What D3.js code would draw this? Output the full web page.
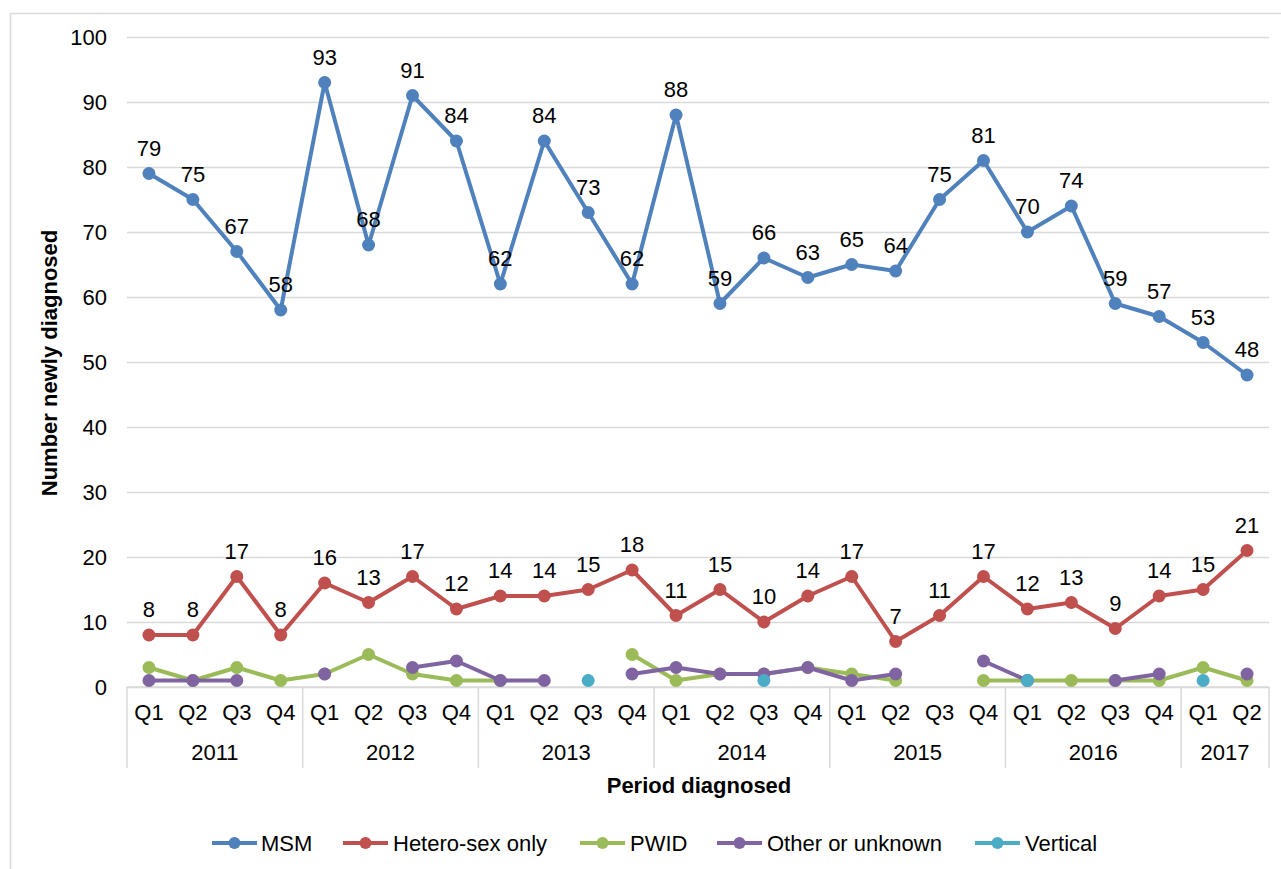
<!DOCTYPE html>
<html>
<head>
<meta charset="utf-8">
<script src="https://cdn.jsdelivr.net/npm/d3@7/dist/d3.min.js"></script>
<style>
  html, body { margin: 0; padding: 0; background: #fff; }
  svg { display: block; font-family: "Liberation Sans", Arial, sans-serif; }
</style>
</head>
<body>
<svg id="chart" width="1281" height="869"></svg>
<script>
// Quarterly new diagnoses by exposure group
const years = ["2011", "2012", "2013", "2014", "2015", "2016", "2017"];
const quartersPerYear = [4, 4, 4, 4, 4, 4, 2];
const quarterLabels = ["Q1", "Q2", "Q3", "Q4"];

const msm = [79, 75, 67, 58, 93, 68, 91, 84, 62, 84, 73, 62, 88, 59, 66, 63, 65, 64, 75, 81, 70, 74, 59, 57, 53, 48];
const hetero = [8, 8, 17, 8, 16, 13, 17, 12, 14, 14, 15, 18, 11, 15, 10, 14, 17, 7, 11, 17, 12, 13, 9, 14, 15, 21];
const pwid = [3, 1, 3, 1, 2, 5, 2, 1, 1, null, null, 5, 1, 2, 2, 3, 2, 1, null, 1, 1, 1, 1, 1, 3, 1];
const other = [1, 1, 1, null, 2, null, 3, 4, 1, 1, null, 2, 3, 2, 2, 3, 1, 2, null, 4, 1, null, 1, 2, null, 2];
const vertical = [null, null, null, null, null, null, null, null, null, null, 1, null, null, null, 1, null, null, null, null, null, 1, null, null, null, 1, null];

const yTicks = [0, 10, 20, 30, 40, 50, 60, 70, 80, 90, 100];

const seriesNames = ["MSM", "Hetero-sex only", "PWID", "Other or unknown", "Vertical"];
const seriesColors = ["#4f81bd", "#c0504d", "#9bbb59", "#8064a2", "#4bacc6"];
const seriesValues = [msm, hetero, pwid, other, vertical];
const labelled = [true, true, false, false, false];

const FONT = 22;

// Flattened category list: one entry per quarter
const periods = [];
years.forEach((yr, yi) => {
  for (let q = 0; q < quartersPerYear[yi]; q++) {
    periods.push({ key: yr + "-" + quarterLabels[q], year: yr, quarter: quarterLabels[q] });
  }
});

const svg = d3.select("#chart");
const W = 1281, H = 869;
const plot = { left: 127, right: 1269, top: 37, bottom: 687 };

// Outer chart frame (extends past the page on the right and bottom)
svg.append("rect")
  .attr("x", 10.5).attr("y", 13.5)
  .attr("width", W + 20).attr("height", H + 20)
  .attr("fill", "#fff")
  .attr("stroke", "#d9d9d9").attr("stroke-width", 1.5);

const x = d3.scaleBand()
  .domain(periods.map(p => p.key))
  .range([plot.left, plot.right])
  .padding(0);

const y = d3.scaleLinear().domain([0, 100]).range([plot.bottom, plot.top]);

const cx = i => x(periods[i].key) + x.bandwidth() / 2;

// Horizontal gridlines and value axis labels
const yAxis = d3.axisLeft(y)
  .tickValues(yTicks)
  .tickSize(-(plot.right - plot.left))
  .tickPadding(20);

const gy = svg.append("g")
  .attr("transform", `translate(${plot.left},0)`)
  .call(yAxis);
gy.select(".domain").remove();
gy.selectAll(".tick line").attr("stroke", "#d9d9d9").attr("stroke-width", 1.5);
gy.selectAll(".tick text")
  .attr("font-size", FONT).attr("fill", "#000")
  .attr("font-family", "'Liberation Sans', Arial, sans-serif");

// Category axis: quarter row, year row and group separators
const axisG = svg.append("g");
axisG.append("line")
  .attr("x1", plot.left).attr("x2", plot.right)
  .attr("y1", plot.bottom).attr("y2", plot.bottom)
  .attr("stroke", "#d9d9d9").attr("stroke-width", 1.5);

axisG.selectAll("text.q")
  .data(periods)
  .join("text")
  .attr("class", "q")
  .attr("x", (d, i) => cx(i))
  .attr("y", 720)
  .attr("text-anchor", "middle")
  .attr("font-size", FONT)
  .attr("fill", "#000")
  .text(d => d.quarter);

let start = 0;
const groups = years.map((yr, yi) => {
  const g = { year: yr, first: start, last: start + quartersPerYear[yi] - 1 };
  start += quartersPerYear[yi];
  return g;
});

const boundaries = [x(periods[0].key)].concat(groups.map(g => x(periods[g.last].key) + x.bandwidth()));
axisG.selectAll("line.sep")
  .data(boundaries)
  .join("line")
  .attr("class", "sep")
  .attr("x1", d => d).attr("x2", d => d)
  .attr("y1", plot.bottom).attr("y2", 768)
  .attr("stroke", "#d9d9d9").attr("stroke-width", 1.5);

axisG.selectAll("text.yr")
  .data(groups)
  .join("text")
  .attr("class", "yr")
  .attr("x", g => (x(periods[g.first].key) + x(periods[g.last].key) + x.bandwidth()) / 2)
  .attr("y", 760)
  .attr("text-anchor", "middle")
  .attr("font-size", FONT)
  .attr("fill", "#000")
  .text(g => g.year);

// Axis titles
svg.append("text")
  .attr("x", 699).attr("y", 793)
  .attr("text-anchor", "middle")
  .attr("font-size", 22).attr("font-weight", "bold")
  .text("Period diagnosed");

svg.append("text")
  .attr("transform", "translate(57,363) rotate(-90)")
  .attr("text-anchor", "middle")
  .attr("font-size", 22).attr("font-weight", "bold")
  .text("Number newly diagnosed");

// Series lines, markers and data labels
const line = d3.line()
  .defined(d => d.v !== null)
  .x(d => cx(d.i))
  .y(d => y(d.v));

seriesValues.forEach((vals, si) => {
  const pts = vals.map((v, i) => ({ v, i }));
  const g = svg.append("g").attr("class", "series");
  g.append("path")
    .datum(pts)
    .attr("d", line)
    .attr("fill", "none")
    .attr("stroke", seriesColors[si])
    .attr("stroke-width", 4)
    .attr("stroke-linejoin", "round");
  g.selectAll("circle")
    .data(pts.filter(d => d.v !== null))
    .join("circle")
    .attr("cx", d => cx(d.i))
    .attr("cy", d => y(d.v))
    .attr("r", 6.5)
    .attr("fill", seriesColors[si]);
});

seriesValues.forEach((vals, si) => {
  if (!labelled[si]) return;
  svg.append("g").selectAll("text")
    .data(vals.map((v, i) => ({ v, i })).filter(d => d.v !== null))
    .join("text")
    .attr("x", d => cx(d.i))
    .attr("y", d => y(d.v) - 18)
    .attr("text-anchor", "middle")
    .attr("font-size", FONT)
    .attr("fill", "#000")
    .text(d => d.v);
});

// Legend
const legendItems = [
  { lx: 212, tx: 261 },
  { lx: 343, tx: 393 },
  { lx: 580, tx: 630 },
  { lx: 717, tx: 767 },
  { lx: 975, tx: 1025 }
];
const legendY = 843;
const lg = svg.append("g");
seriesNames.forEach((name, si) => {
  const it = legendItems[si];
  lg.append("line")
    .attr("x1", it.lx).attr("x2", it.lx + 45)
    .attr("y1", legendY).attr("y2", legendY)
    .attr("stroke", seriesColors[si]).attr("stroke-width", 4);
  lg.append("circle")
    .attr("cx", it.lx + 22.5).attr("cy", legendY)
    .attr("r", 6).attr("fill", seriesColors[si]);
  lg.append("text")
    .attr("x", it.tx).attr("y", legendY + 8)
    .attr("font-size", FONT).attr("fill", "#000")
    .text(name);
});
</script>
</body>
</html>
